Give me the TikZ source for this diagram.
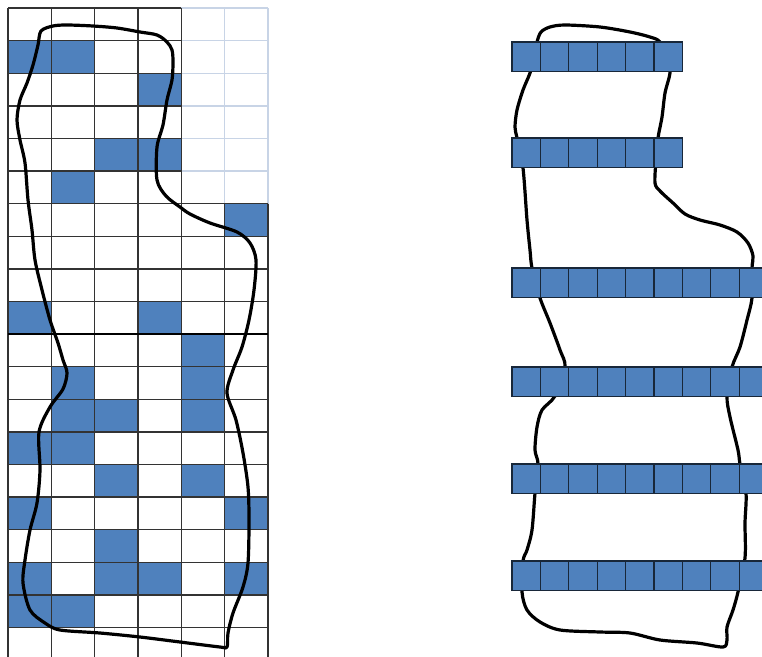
\documentclass[tikz,border=0pt]{standalone}
\definecolor{cellblue}{RGB}{79,129,189}
\definecolor{gridpale}{RGB}{200,212,230}

\begin{document}
\begin{tikzpicture}[x=1pt, y=-1pt,
	gridline/.style={black!80, line width=1.4pt},
	paleline/.style={gridpale, line width=1.4pt},
	outline/.style={black, line width=3.2pt, line join=round},
	barcell/.style={fill=cellblue, draw=cellblue!30!black, line width=1.2pt}]
	
	\useasboundingbox (0,0) rectangle (762,656);
	\clip (0,0) rectangle (762,656);
	
	% Grid on the left
	\begin{scope}[shift={(8,8)}, x=43.33pt, y=-32.6pt]
		% Blue cells (row/col)
		\foreach \r/\c in {1/0, 1/1, 2/3, 4/2, 4/3, 5/1, 6/5, 9/0, 9/3, 10/4,
			11/1, 11/4, 12/1, 12/2, 12/4, 13/0, 13/1, 14/2, 14/4, 15/0, 15/5,
			16/2, 17/0, 17/2, 17/3, 17/5, 18/0, 18/1} {
			\fill[cellblue] (\c,\r) rectangle (\c+1,\r+1);
		}
		% Pale corner
		\foreach \c in {5,6} {
			\draw[paleline] (\c,0) -- (\c,6);
		}
		\foreach \r in {0,...,5} {
			\draw[paleline] (4,\r) -- (6,\r);
		}
		% Dark lines
		\foreach \c in {0,...,4} {
			\draw[gridline] (\c,0) -- (\c,20);
		}
		\foreach \c in {5,6} {
			\draw[gridline] (\c,6) -- (\c,20);
		}
		\foreach \r in {0,...,5} {
			\draw[gridline] (0,\r) -- (4,\r);
		}
		\foreach \r in {6,...,19} {
			\draw[gridline] (0,\r) -- (6,\r);
		}
		\draw[black, line width=2.6pt] (0,10) -- (6,10);
	\end{scope}
	
	% Outline on the grid
	\draw[outline] plot[smooth cycle, tension=0.5] coordinates {
		(41,31) (53,26) (67,25) (93,26) (117,28) (140,32) (157,35) (167,42)
		(172,50) (173,62) (172,80) (167,100) (163,125) (157,147) (157,180)
		(166,196) (180,207) (190,214) (210,223) (237,232) (250,243) (256,260)
		(254,290) (249,320) (242,347) (233,370) (227,393) (236,420) (243,453)
		(248,487) (249,520) (248,563) (243,587) (233,613) (228,633) (227,647)
		(220,647) (180,642) (140,637) (100,633) (60,630) (45,623) (30,610)
		(23,583) (25,560) (30,530) (37,503) (40,470) (39,432) (50,407)
		(63,389) (67,373) (63,360) (58,343) (50,320) (42,290) (35,260)
		(32,230) (28,200) (25,163) (20,140) (17,120) (20,100) (27,83)
		(33,65) (38,45)};
	
	% Outline under the bars
	\draw[outline] plot[smooth cycle, tension=0.5] coordinates {
		(537,42) (541,32) (550,27) (565,25) (600,27) (630,32) (650,37)
		(660,42) (668,60) (670,73) (665,93) (662,117) (658,138) (656,160)
		(655,183) (660,191) (673,203) (685,214) (700,220) (720,225) (737,232)
		(748,243) (753,256) (752,268) (752,298) (747,320) (740,347) (732,367)
		(727,396) (730,417) (738,450) (740,464) (746,493) (745,523) (745,558)
		(738,592) (733,610) (727,627) (727,640) (723,647) (697,643) (660,640)
		(630,633) (600,632) (560,630) (540,622) (527,610) (522,592) (523,561)
		(527,550) (532,530) (535,493) (538,464) (535,450) (537,427) (542,410)
		(555,396) (565,367) (560,350) (550,323) (540,298) (532,268) (530,250)
		(527,220) (523,168) (517,138) (515,127) (517,110) (523,90) (530,73)
		(535,55)};
	
	% Bars of cells
	\foreach \y/\n in {42/6, 138/6, 268/9, 367/9, 464/9, 561/9} {
		\foreach \i in {1,...,\n} {
			\draw[barcell] ({512+(\i-1)*28.4},\y) rectangle ++(28.4,29.5);
		}
	}
	
\end{tikzpicture}
\end{document}
